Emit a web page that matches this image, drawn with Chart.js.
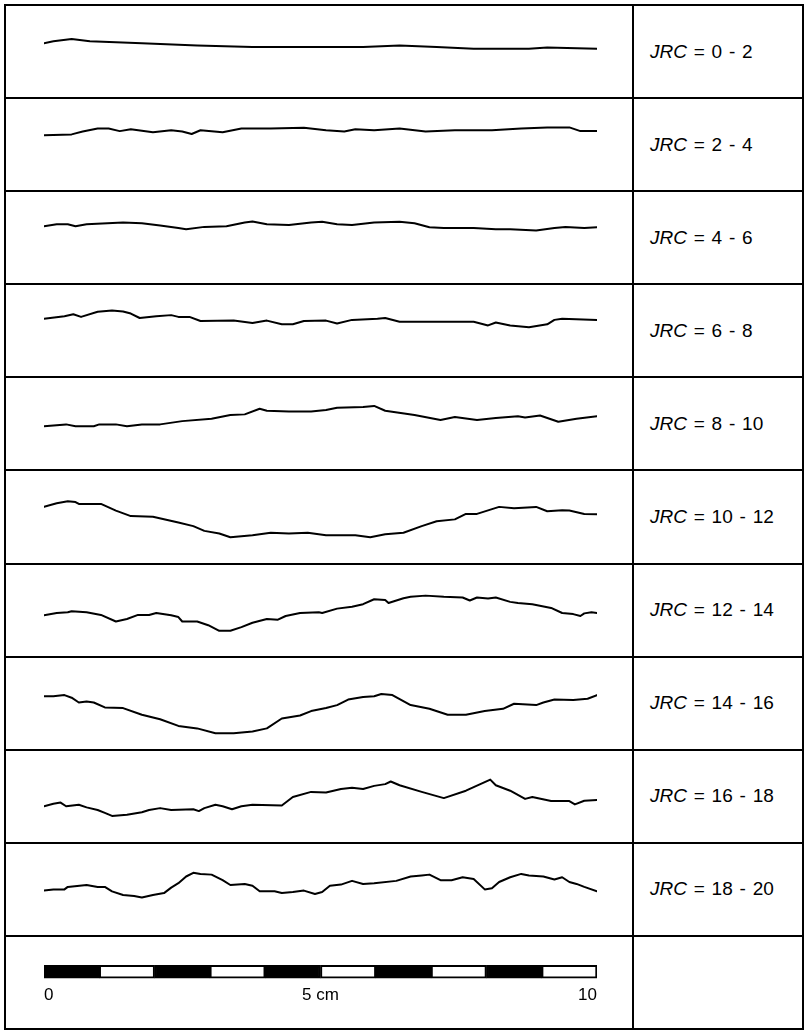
<!DOCTYPE html>
<html><head><meta charset="utf-8">
<script src="https://cdn.jsdelivr.net/npm/chart.js@4.4.1/dist/chart.umd.min.js"></script>
<style>
html,body{margin:0;padding:0;background:#fff;}
#frame{position:absolute;left:4px;top:4px;width:800px;height:1026px;box-sizing:border-box;border:2px solid #000;display:flex;flex-direction:column;}
.row{flex:1 1 0;display:flex;border-bottom:2px solid #000;min-height:0;}
.row:last-child{border-bottom:none;}
.plot{width:626px;flex:none;border-right:2px solid #000;position:relative;}
.plot canvas{position:absolute;left:0;top:0;}
.label{flex:1;display:flex;align-items:center;justify-content:flex-start;padding-left:16px;font-family:"Liberation Sans",Arial,sans-serif;font-size:19px;word-spacing:1.5px;color:#000;white-space:pre;}
</style>
</head><body>
<div id="frame"></div>
<script>
// ---- data ----
const jrcRanges = ["0 - 2","2 - 4","4 - 6","6 - 8","8 - 10","10 - 12","12 - 14","14 - 16","16 - 18","18 - 20"];

// profile x positions (cm) and heights (mm, up positive, relative to row centre)
const prof1x = [0,0.17,0.5,0.83,1.77,2.77,3.77,4.77,5.77,6.43,7.1,7.77,8.77,9.1,10];
const prof1y = [1.50,1.84,2.24,1.84,1.50,1.10,0.83,0.83,0.83,1.10,0.83,0.51,0.51,0.71,0.51];

const prof2x = [0,0.5,0.7,0.97,1.17,1.37,1.57,1.97,2.3,2.5,2.67,2.83,3.23,3.57,4.1,4.7,5.1,5.43,5.63,5.97,6.43,6.9,7.43,8.1,8.63,9.1,9.5,9.7,10];
const prof2y = [1.68,1.83,2.35,2.89,2.89,2.42,2.77,2.22,2.57,2.35,1.90,2.57,2.22,2.89,2.89,3.02,2.57,2.35,2.77,2.57,2.89,2.35,2.57,2.57,2.89,3.09,3.09,2.42,2.42];

const prof3x = [0,0.23,0.43,0.57,0.77,1.43,1.77,2.1,2.43,2.57,2.9,3.3,3.63,3.77,4.03,4.43,4.83,5.03,5.3,5.57,5.97,6.43,6.7,6.97,7.23,7.77,8.17,8.43,8.9,9.23,9.43,9.77,10];
const prof3y = [2.04,2.39,2.39,2.04,2.39,2.71,2.59,2.17,1.72,1.50,1.92,2.04,2.71,2.91,2.39,2.24,2.71,2.84,2.39,2.24,2.71,2.84,2.59,1.84,1.72,1.72,1.50,1.50,1.25,1.72,1.92,1.72,1.84];

const prof4x = [0,0.37,0.53,0.67,0.97,1.23,1.43,1.57,1.73,2.03,2.3,2.43,2.63,2.83,3.43,3.77,4.03,4.3,4.5,4.7,5.1,5.3,5.57,6.03,6.17,6.43,7.1,7.77,8.03,8.17,8.43,8.77,9.1,9.23,9.37,10];
const prof4y = [2.12,2.59,2.93,2.46,3.38,3.60,3.45,3.06,2.26,2.59,2.78,2.46,2.46,1.72,1.79,1.37,1.79,1.12,1.12,1.72,1.79,1.25,1.92,2.12,2.26,1.59,1.59,1.59,0.92,1.45,0.92,0.58,1.12,1.92,2.12,1.92];

const prof5x = [0,0.4,0.57,0.9,1.0,1.3,1.5,1.77,2.1,2.5,3.03,3.37,3.63,3.9,4.03,4.43,4.83,5.1,5.3,5.77,5.97,6.17,6.7,7.17,7.43,7.83,8.17,8.57,8.7,8.97,9.3,9.63,10];
const prof5y = [-0.49,-0.16,-0.49,-0.49,-0.16,-0.16,-0.49,-0.16,-0.16,0.43,0.85,1.52,1.65,2.66,2.31,2.19,2.19,2.44,2.86,2.98,3.18,2.31,1.52,0.65,1.18,0.65,0.98,1.32,1.10,1.45,0.31,0.85,1.32];

const prof6x = [0,0.23,0.43,0.57,0.63,1.03,1.3,1.57,1.97,2.43,2.7,2.9,3.17,3.37,3.77,4.1,4.43,4.77,5.1,5.63,5.9,6.17,6.5,6.83,7.1,7.43,7.63,7.83,8.23,8.5,8.9,9.1,9.37,9.5,9.77,10];
const prof6y = [1.74,2.41,2.75,2.62,2.28,2.28,1.07,0.07,-0.05,-1.07,-1.74,-2.60,-3.07,-3.74,-3.40,-2.95,-3.07,-2.95,-3.40,-3.40,-3.74,-3.20,-2.95,-1.74,-0.87,-0.52,0.47,0.47,1.74,1.48,1.74,0.94,1.14,1.07,0.47,0.40];

const prof7x = [0,0.23,0.43,0.5,0.77,1.03,1.3,1.5,1.7,1.9,2.03,2.3,2.43,2.5,2.77,2.97,3.17,3.37,3.57,3.77,4.03,4.23,4.37,4.63,4.97,5.03,5.3,5.57,5.77,5.97,6.17,6.23,6.5,6.63,6.9,7.23,7.57,7.7,7.83,8.03,8.17,8.43,8.57,8.83,9.17,9.37,9.57,9.7,9.77,9.9,10];
const prof7y = [-0.87,-0.45,-0.33,-0.13,-0.33,-0.80,-1.99,-1.54,-0.80,-0.80,-0.45,-0.87,-1.19,-1.99,-1.99,-2.66,-3.67,-3.67,-3.00,-2.21,-1.54,-1.66,-0.99,-0.45,-0.33,-0.45,0.34,0.69,1.14,2.03,1.88,1.36,2.22,2.48,2.69,2.48,2.35,1.81,2.35,2.15,2.35,1.56,1.36,1.14,0.47,-0.45,-0.65,-0.99,-0.52,-0.33,-0.45];

const prof8x = [0,0.17,0.37,0.5,0.63,0.77,0.9,1.1,1.43,1.77,2.1,2.43,2.77,3.1,3.43,3.77,4.03,4.3,4.63,4.83,5.1,5.3,5.5,5.77,5.97,6.1,6.3,6.63,6.97,7.3,7.63,7.97,8.3,8.5,8.9,9.03,9.23,9.57,9.83,10];
const prof8y = [1.30,1.30,1.52,1.05,0.18,0.38,0.18,-0.71,-0.83,-2.04,-2.84,-4.05,-4.50,-5.39,-5.39,-5.05,-4.50,-2.71,-2.17,-1.37,-0.83,-0.29,0.71,1.18,1.30,1.72,1.52,-0.29,-0.96,-2.04,-2.04,-1.37,-0.96,-0.04,-0.29,0.18,0.71,0.63,0.85,1.52];

const prof9x = [0,0.17,0.3,0.4,0.63,0.77,0.97,1.1,1.23,1.5,1.77,1.9,2.1,2.3,2.7,2.8,2.9,3.1,3.23,3.4,3.57,3.77,4.3,4.5,4.83,5.1,5.37,5.57,5.77,5.97,6.17,6.27,6.43,6.83,7.23,7.63,8.07,8.17,8.43,8.7,8.83,9.17,9.5,9.6,9.77,10];
const prof9y = [-1.77,-1.30,-1.10,-1.77,-1.50,-1.97,-2.44,-2.97,-3.51,-3.31,-2.84,-2.44,-2.10,-2.44,-2.30,-2.64,-2.10,-1.50,-1.77,-2.30,-1.77,-1.50,-1.63,-0.09,0.83,0.71,1.37,1.57,1.37,1.92,2.24,2.71,2.04,0.83,-0.29,1.05,3.06,2.04,1.05,-0.43,-0.09,-0.83,-0.83,-1.43,-0.76,-0.63];

const prof10x = [0,0.17,0.37,0.43,0.77,0.97,1.1,1.23,1.43,1.63,1.77,1.97,2.17,2.3,2.43,2.57,2.7,2.83,3.03,3.23,3.37,3.63,3.77,3.9,4.17,4.3,4.5,4.7,4.9,5.03,5.17,5.37,5.57,5.77,5.97,6.37,6.63,6.83,6.97,7.17,7.37,7.57,7.77,7.97,8.1,8.23,8.43,8.63,8.77,9.03,9.23,9.37,9.5,9.63,9.77,10];
const prof10y = [-0.20,0.02,0.02,0.47,0.81,0.47,0.47,-0.33,-0.99,-1.19,-1.46,-0.99,-0.65,0.34,1.14,2.35,3.02,2.82,2.69,1.68,0.81,1.01,0.69,-0.33,-0.33,-0.65,-0.45,-0.20,-0.80,-0.45,0.69,0.89,1.56,1.01,1.14,1.56,2.35,2.55,2.69,1.68,1.68,2.22,1.88,0.02,0.22,1.36,2.22,2.82,2.55,2.35,1.81,2.22,1.36,1.01,0.47,-0.33];

// scale bar: ten 1-cm segments, ticks
const scaleSegments = [1,1,1,1,1,1,1,1,1,1];
const scaleTicks = [0,5,10];
const scaleTickLabels = ["0","5 cm","10"];

// ---- build ----
const profX = [prof1x,prof2x,prof3x,prof4x,prof5x,prof6x,prof7x,prof8x,prof9x,prof10x];
const profY = [prof1y,prof2y,prof3y,prof4y,prof5y,prof6y,prof7y,prof8y,prof9y,prof10y];
const frame = document.getElementById('frame');
const FONT = '"Liberation Sans", Arial, sans-serif';

function makeRow(labelHtml){
  const row = document.createElement('div'); row.className='row';
  const plot = document.createElement('div'); plot.className='plot';
  const lab = document.createElement('div'); lab.className='label';
  lab.innerHTML = labelHtml;
  row.appendChild(plot); row.appendChild(lab); frame.appendChild(row);
  return plot;
}
function addCanvas(plot){
  const c = document.createElement('canvas');
  c.width = plot.clientWidth; c.height = plot.clientHeight;
  plot.appendChild(c);
  return c;
}

const plots = jrcRanges.map(r => makeRow('<i>JRC</i> = ' + r));
const lastPlot = makeRow('');

plots.forEach((plot, i) => {
  const c = addCanvas(plot);
  const xs = profX[i], ys = profY[i];
  const n = Math.min(xs.length, ys.length);
  const pts = [];
  for (let k = 0; k < n; k++) pts.push({x: xs[k], y: ys[k]});
  const half = (c.height / 5.53) / 2;
  new Chart(c, {
    type: 'line',
    data: { datasets: [{ data: pts, borderColor: '#000', borderWidth: 2, pointRadius: 0, tension: 0, fill: false, borderJoinStyle: 'round', borderCapStyle: 'round' }] },
    options: {
      responsive: false, animation: false,
      plugins: { legend: { display: false }, tooltip: { enabled: false } },
      layout: { padding: { left: 38, right: 35, top: 0, bottom: 0 } },
      scales: {
        x: { type: 'linear', min: 0, max: 10, display: false },
        y: { type: 'linear', min: -half, max: half, display: false }
      }
    }
  });
});

// scale bar
{
  const c = addCanvas(lastPlot);
  new Chart(c, {
    type: 'bar',
    data: {
      labels: ['scale'],
      datasets: scaleSegments.map((v, i) => ({
        data: [v],
        backgroundColor: i % 2 === 0 ? '#000' : '#fff',
        borderColor: '#000', borderWidth: 2, borderSkipped: false,
        barThickness: 13
      }))
    },
    options: {
      indexAxis: 'y', responsive: false, animation: false,
      plugins: { legend: { display: false }, tooltip: { enabled: false } },
      layout: { padding: { left: 38, right: 35, top: 25, bottom: 27 } },
      scales: {
        x: {
          type: 'linear', stacked: true, min: 0, max: 10,
          grid: { display: false, drawTicks: false }, border: { display: false },
          afterBuildTicks: (ax) => { ax.ticks = scaleTicks.map(v => ({ value: v })); },
          ticks: {
            padding: 4, color: '#000', maxRotation: 0, autoSkip: false, align: 'inner',
            font: { family: FONT, size: 17 },
            callback: (v) => { const j = scaleTicks.indexOf(v); return j >= 0 ? scaleTickLabels[j] : ''; }
          }
        },
        y: { stacked: true, display: false }
      }
    }
  });
}
</script>
</body></html>
